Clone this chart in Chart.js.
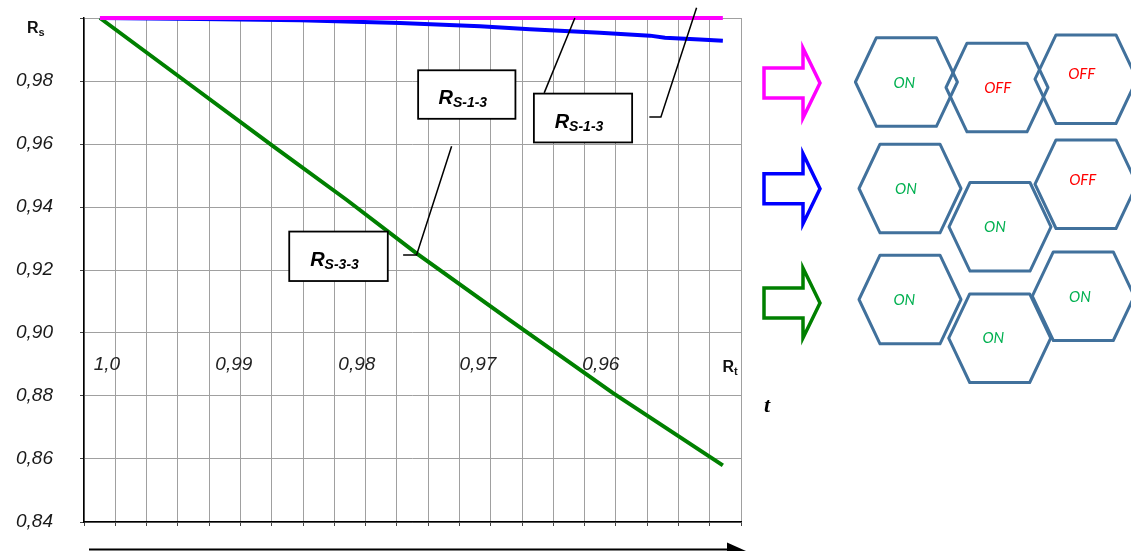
<!DOCTYPE html>
<html>
<head>
<meta charset="utf-8">
<script src="https://cdn.jsdelivr.net/npm/chart.js@4/dist/chart.umd.min.js"></script>
<style>
html,body{margin:0;padding:0;background:#fff;}
#wrap{width:1131px;height:551px;position:relative;overflow:hidden;}
</style>
</head>
<body>
<div id="wrap"><canvas id="c" width="1131" height="551"></canvas></div>
<script>
// ---- data (x in grid units 0..21, y = reliability Rs) ----
const magentaX = [0.51, 20.42];
const magentaY = [1.0000, 1.0000];
const blueX = [0.51, 3.71, 6.90, 10.10, 12.66, 14.25, 16.49, 18.09, 18.57, 19.69, 20.42];
const blueY = [1.0000, 0.9997, 0.9993, 0.9984, 0.9974, 0.9964, 0.9953, 0.9944, 0.9937, 0.9932, 0.9928];
const greenX = [0.51, 3.49, 6.02, 8.39, 10.63, 13.61, 16.90, 20.42];
const greenY = [1.0000, 0.9781, 0.9595, 0.9423, 0.9253, 0.9041, 0.8810, 0.8580];
const rtLabels = ['1,0', '0,99', '0,98', '0,97', '0,96'];
const boxLabels = ['S-1-3', 'S-1-3', 'S-3-3'];
const hexStates = [['ON','OFF','OFF'], ['ON','ON','OFF'], ['ON','ON','ON']];
const yMin = 0.84, yMax = 1.00, yStep = 0.02;

const pts = (xs, ys) => xs.map((x, i) => ({x: x, y: ys[i]}));

const deco = {
  id: 'deco',
  beforeDatasetsDraw(chart) {
    const ctx = chart.ctx, xs = chart.scales.x, ys = chart.scales.y;
    ctx.save();
    ctx.fillStyle = '#222';
    ctx.font = 'italic 19px "Liberation Sans", Arial, sans-serif';
    ctx.textAlign = 'center';
    ctx.textBaseline = 'middle';
    const lx = [0.73, 4.79, 8.72, 12.59, 16.52];
    const ly = ys.getPixelForValue(0.8898);
    rtLabels.forEach((t, i) => ctx.fillText(t, xs.getPixelForValue(lx[i]), ly));
    // Rt
    ctx.textAlign = 'left';
    ctx.textBaseline = 'alphabetic';
    ctx.fillStyle = '#111';
    ctx.font = 'bold 16px "Liberation Sans", Arial, sans-serif';
    const rx = xs.getPixelForValue(20.41), rb = ys.getPixelForValue(0.8898) + 7;
    ctx.fillText('R', rx, rb);
    const rw = ctx.measureText('R').width;
    ctx.font = 'bold 11px "Liberation Sans", Arial, sans-serif';
    ctx.fillText('t', rx + rw, rb + 3);
    ctx.restore();
  },
  afterDraw(chart) {
    const ctx = chart.ctx, xs = chart.scales.x, ys = chart.scales.y;
    const X = v => xs.getPixelForValue(v), Y = v => ys.getPixelForValue(v);
    ctx.save();
    // Rs label at top of y axis
    ctx.fillStyle = '#111';
    ctx.textBaseline = 'alphabetic';
    ctx.textAlign = 'left';
    ctx.font = 'bold 16px "Liberation Sans", Arial, sans-serif';
    ctx.fillText('R', 27, 33);
    const w0 = ctx.measureText('R').width;
    ctx.font = 'bold 11px "Liberation Sans", Arial, sans-serif';
    ctx.fillText('s', 27 + w0, 36);

    // leader lines
    ctx.strokeStyle = '#000';
    ctx.lineWidth = 1.5;
    const leaders = [
      [[11.75, 0.9593], [10.63, 0.9248], [10.20, 0.9248]],
      [[14.71, 0.97622], [15.69, 1.0000]],
      [[18.07, 0.96858], [18.44, 0.96858], [19.58, 1.00324]]
    ];
    leaders.forEach(l => {
      ctx.beginPath();
      l.forEach((p, i) => { const px = X(p[0]), py = Y(p[1]); i ? ctx.lineTo(px, py) : ctx.moveTo(px, py); });
      ctx.stroke();
    });

    // annotation boxes
    const boxes = [
      [10.68, 13.79, 0.9834, 0.9680],
      [14.38, 17.52, 0.9760, 0.9605],
      [6.56, 9.71, 0.9322, 0.9165]
    ];
    boxes.forEach((b, i) => {
      const x0 = X(b[0]), x1 = X(b[1]), y0 = Y(b[2]), y1 = Y(b[3]);
      ctx.fillStyle = '#fff';
      ctx.fillRect(x0, y0, x1 - x0, y1 - y0);
      ctx.strokeStyle = '#000';
      ctx.lineWidth = 1.8;
      ctx.strokeRect(x0, y0, x1 - x0, y1 - y0);
      ctx.fillStyle = '#000';
      ctx.font = 'italic bold 20px "Liberation Sans", Arial, sans-serif';
      const wr = ctx.measureText('R').width;
      ctx.font = 'italic bold 14px "Liberation Sans", Arial, sans-serif';
      const ws = ctx.measureText(boxLabels[i]).width;
      const sx = (x0 + x1) / 2 - 4 - (wr + ws) / 2;
      const base = y0 + 34;
      ctx.font = 'italic bold 20px "Liberation Sans", Arial, sans-serif';
      ctx.fillText('R', sx, base);
      ctx.font = 'italic bold 14px "Liberation Sans", Arial, sans-serif';
      ctx.fillText(boxLabels[i], sx + wr, base + 3);
    });

    // time arrow below the chart
    ctx.strokeStyle = '#000';
    ctx.fillStyle = '#000';
    ctx.lineWidth = 2;
    ctx.beginPath(); ctx.moveTo(89, 549.5); ctx.lineTo(732, 549.5); ctx.stroke();
    ctx.beginPath(); ctx.moveTo(727, 542.5); ctx.lineTo(746, 551); ctx.lineTo(727, 559); ctx.closePath(); ctx.fill();

    // t label
    ctx.font = 'italic bold 22px "Liberation Serif", "Times New Roman", serif';
    ctx.fillStyle = '#000';
    ctx.fillText('t', 764, 412);

    // block arrows
    const arrows = [['#ff00ff', 83], ['#0000ff', 188.7], ['#008000', 303]];
    ctx.lineWidth = 3.5;
    ctx.lineJoin = 'miter';
    arrows.forEach(a => {
      const cy = a[1];
      ctx.strokeStyle = a[0];
      ctx.beginPath();
      ctx.moveTo(764, cy - 15);
      ctx.lineTo(803, cy - 15);
      ctx.lineTo(803, cy - 35);
      ctx.lineTo(820, cy);
      ctx.lineTo(803, cy + 35);
      ctx.lineTo(803, cy + 15);
      ctx.lineTo(764, cy + 15);
      ctx.closePath();
      ctx.stroke();
    });

    // hexagons
    const hexes = [
      [[906.4, 82, 904.3, 83.3], [997, 87.5, 997.7, 88.3], [1086, 79.2, 1081.7, 74]],
      [[910, 188.5, 906, 189], [1000, 226.8, 995, 227.3], [1086, 184.2, 1082.7, 180]],
      [[910, 299.5, 904.3, 300], [999.7, 338.2, 993.3, 338.3], [1083.3, 296.2, 1080, 296.7]]
    ];
    const hw = 51, hh = 44.3, th = 30;
    ctx.strokeStyle = '#41719c';
    ctx.lineWidth = 3;
    ctx.lineJoin = 'round';
    hexes.forEach((row, r) => row.forEach((h, c) => {
      const cx = h[0], cy = h[1];
      ctx.beginPath();
      ctx.moveTo(cx - hw, cy);
      ctx.lineTo(cx - th, cy - hh);
      ctx.lineTo(cx + th, cy - hh);
      ctx.lineTo(cx + hw, cy);
      ctx.lineTo(cx + th, cy + hh);
      ctx.lineTo(cx - th, cy + hh);
      ctx.closePath();
      ctx.stroke();
    }));
    ctx.font = 'italic 15px Lato, "Noto Sans", sans-serif';
    ctx.textAlign = 'center';
    ctx.textBaseline = 'middle';
    hexes.forEach((row, r) => row.forEach((h, c) => {
      const s = hexStates[r][c];
      ctx.fillStyle = s === 'ON' ? '#00b050' : '#ff0000';
      ctx.fillText(s, h[2], h[3]);
    }));
    ctx.restore();
  }
};

const noPad = s => { s.paddingTop = 0; s.paddingBottom = 0; s.paddingLeft = 0; s.paddingRight = 0; };

new Chart(document.getElementById('c'), {
  type: 'line',
  data: {
    datasets: [
      {data: pts(magentaX, magentaY), borderColor: '#ff00ff', borderWidth: 4, pointRadius: 0, tension: 0, clip: false},
      {data: pts(blueX, blueY), borderColor: '#0000ff', borderWidth: 4, pointRadius: 0, tension: 0, clip: false},
      {data: pts(greenX, greenY), borderColor: '#008000', borderWidth: 4, pointRadius: 0, tension: 0, clip: false}
    ]
  },
  options: {
    responsive: false,
    devicePixelRatio: 1,
    animation: false,
    layout: {padding: {left: 0, right: 390, top: 18, bottom: 0}},
    plugins: {legend: {display: false}, tooltip: {enabled: false}},
    scales: {
      x: {
        type: 'linear', min: 0, max: 21,
        grid: {color: '#a0a0a0', lineWidth: 1, tickLength: 4, tickColor: '#444'},
        border: {color: '#000', width: 1.5},
        ticks: {stepSize: 1, autoSkip: false, maxRotation: 0, callback: () => ''},
        afterFit(s) { s.height = 29; noPad(s); }
      },
      y: {
        min: yMin, max: yMax,
        grid: {color: '#a0a0a0', lineWidth: 1, tickLength: 4, tickColor: '#444'},
        border: {color: '#000', width: 1.5},
        ticks: {
          stepSize: yStep, padding: 27, color: '#1a1a1a',
          font: {family: '"Liberation Sans", Arial, sans-serif', style: 'italic', size: 19},
          callback: v => Math.abs(v - yMax) < 1e-9 ? '' : v.toFixed(2).replace('.', ',')
        },
        afterFit(s) { s.width = 84; noPad(s); }
      }
    }
  },
  plugins: [deco]
});
</script>
</body>
</html>
